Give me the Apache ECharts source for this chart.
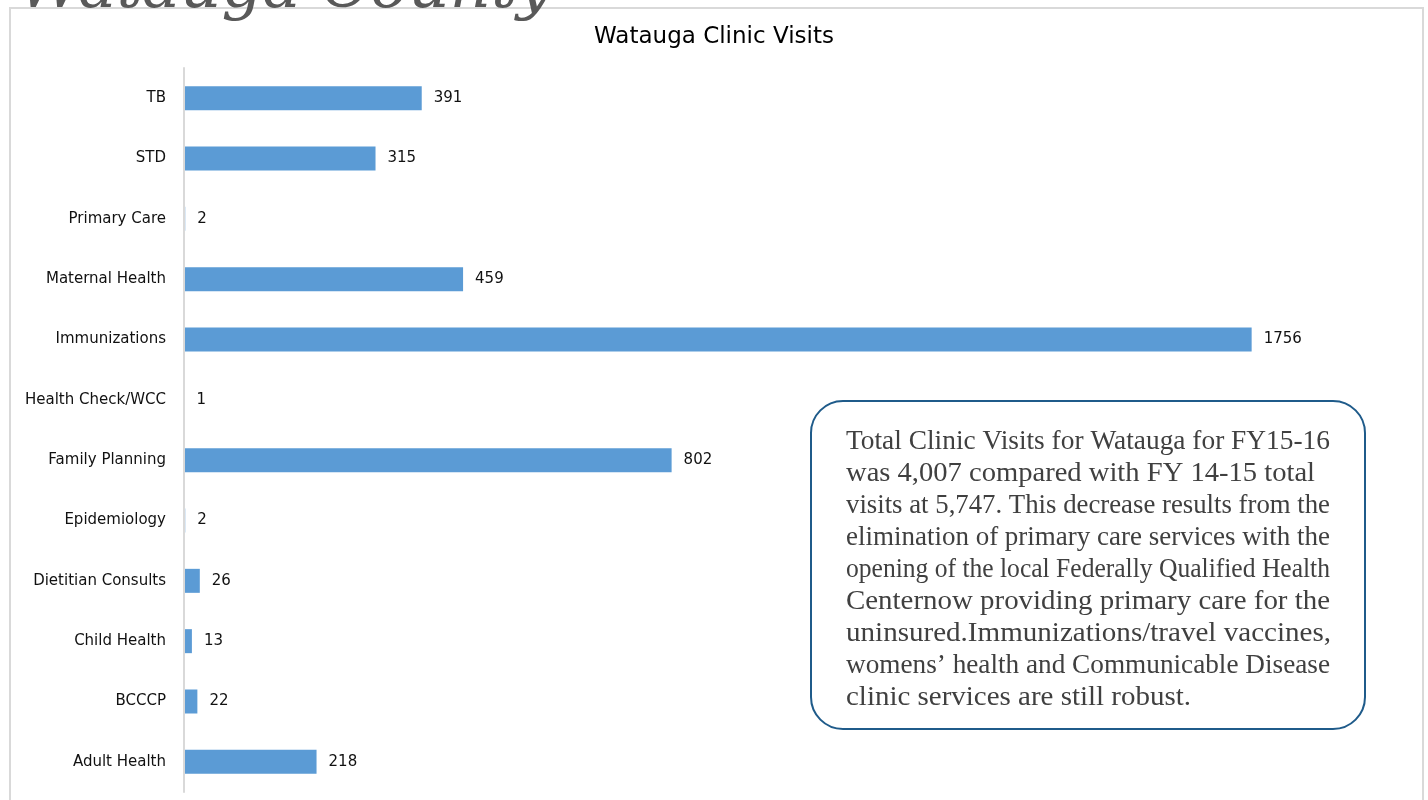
<!DOCTYPE html>
<html>
<head>
<meta charset="utf-8">
<script src="https://cdn.jsdelivr.net/npm/echarts@6/dist/echarts.min.js"></script>
<style>
html,body{margin:0;padding:0;background:#fff;}
#chart{width:1428px;height:800px;}
</style>
</head>
<body>
<div id="chart"></div>
<script>
const categories = ["TB","STD","Primary Care","Maternal Health","Immunizations","Health Check/WCC","Family Planning","Epidemiology","Dietitian Consults","Child Health","BCCCP","Adult Health"];
const visits = [391,315,2,459,1756,1,802,2,26,13,22,218];
const chartTitle = "Watauga Clinic Visits";
const pageHeading = "Watauga County";
const noteLines = [
  "Total Clinic Visits for Watauga for FY15-16",
  "was 4,007 compared with FY 14-15 total",
  "visits at 5,747. This decrease results from the",
  "elimination of primary care services with the",
  "opening of the local Federally Qualified Health",
  "Centernow providing primary care for the",
  "uninsured.Immunizations/travel vaccines,",
  "womens\u2019 health and Communicable Disease",
  "clinic services are still robust."
];

// layout for the note box (justified-looking lines)
const noteFont = '28px "Liberation Serif"';
const noteLeft = 846, noteFirstMid = 442, noteLineGap = 31.9;
const noteLineWidths = [484, 469, 484, 484, 484, 484, 485, 484, 345];

const measureCtx = document.createElement('canvas').getContext('2d');
measureCtx.font = noteFont;

const noteGraphics = noteLines.map(function (line, i) {
  const w = measureCtx.measureText(line).width;
  return {
    type: 'text',
    x: noteLeft,
    y: noteFirstMid + i * noteLineGap,
    scaleX: noteLineWidths[i] / w,
    originX: 0, originY: 0,
    z: 21,
    style: {text: line, font: noteFont, fill: '#404040', verticalAlign: 'middle', align: 'left'}
  };
});

const chart = echarts.init(document.getElementById('chart'), null, {renderer:'canvas'});
const option = {
  backgroundColor: '#ffffff',
  animation: false,
  title: {
    text: chartTitle,
    left: 'center',
    top: 21,
    textStyle: {fontFamily: 'DejaVu Sans', fontSize: 23, fontWeight: 'normal', color: '#000'}
  },
  grid: {left: 184, right: 28, top: 68, bottom: 8, containLabel: false},
  xAxis: {
    type: 'value', min: 0, max: 2000,
    show: false, splitLine: {show: false}
  },
  yAxis: {
    type: 'category', data: categories, inverse: true, z: 5,
    axisLine: {show: true, lineStyle: {color: '#d9d9d9', width: 2}},
    axisTick: {show: false},
    axisLabel: {margin: 18, fontFamily: 'DejaVu Sans', fontSize: 15, color: '#111'}
  },
  series: [{
    type: 'bar',
    z: 1,
    data: visits,
    barWidth: 24,
    itemStyle: {color: '#5b9bd5'},
    label: {show: true, position: 'right', distance: 12, fontFamily: 'DejaVu Sans', fontSize: 15, color: '#111'}
  }],
  graphic: [
    {type: 'rect', shape: {x: 10, y: 8, width: 1413, height: 820}, style: {fill: 'none', stroke: '#d9d9d9', lineWidth: 2}, z: -1},
    {type: 'text', left: 18, top: -42, style: {text: pageHeading, font: 'italic 64px "DejaVu Serif"', fill: '#595959'}, z: 10},
    {type: 'rect', shape: {x: 811, y: 401, width: 554, height: 328, r: 32}, style: {fill: '#ffffff', stroke: '#1f5b8a', lineWidth: 2}, z: 20}
  ].concat(noteGraphics)
};
chart.setOption(option);
</script>
</body>
</html>
